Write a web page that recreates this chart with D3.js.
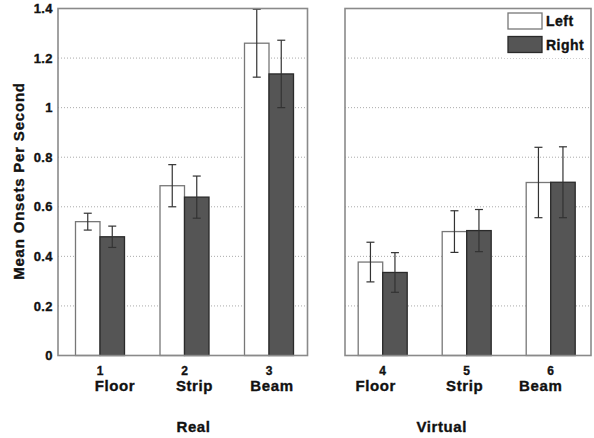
<!DOCTYPE html>
<html>
<head>
<meta charset="utf-8">
<script src="https://cdn.jsdelivr.net/npm/d3@7"></script>
<style>
  body { margin: 0; background: #fff; }
  text { font-family: "Liberation Sans", Arial, sans-serif; font-weight: bold; fill: #111; stroke: #111; stroke-width: 0.35px; }
</style>
</head>
<body>
<div id="chart"></div>
<script>
// Data
const surfaces = ["Floor", "Strip", "Beam", "Floor", "Strip", "Beam"];
const trialNums = [1, 2, 3, 4, 5, 6];
const conditions = ["Real", "Virtual"];
const leftMean = [0.54, 0.685, 1.26, 0.377, 0.50, 0.698];
const rightMean = [0.479, 0.639, 1.136, 0.335, 0.504, 0.699];
const leftErr = [0.034, 0.085, 0.137, 0.08, 0.084, 0.142];
const rightErr = [0.043, 0.085, 0.136, 0.08, 0.085, 0.143];
const yTicks = [0, 0.2, 0.4, 0.6, 0.8, 1, 1.2, 1.4];
const series = ["Left", "Right"];

const width = 594, height = 438;
const barW = 24.5;
// label nudges (surface names were offset in the original)
const nameShift = [15, 10, 3, -7, -2, -10];

const svg = d3.select("#chart").append("svg")
    .attr("width", width)
    .attr("height", height);

const y = d3.scaleLinear().domain([0, 1.4]).range([355.5, 8.5]);

// two panels
const panels = [
    {name: conditions[0], x0: 58, x1: 307.5, dom: [1, 3], rng: [100, 269]},
    {name: conditions[1], x0: 345, x1: 591, dom: [4, 6], rng: [382.7, 550.7]}
];

const color = d3.scaleOrdinal().domain(series).range(["#ffffff", "#555555"]);
const stroke = d3.scaleOrdinal().domain(series).range(["#777777", "#2a2a2a"]);

panels.forEach((p, pi) => {
    const x = d3.scaleLinear().domain(p.dom).range(p.rng);
    const g = svg.append("g");

    // dotted grid
    g.selectAll(".grid")
        .data(yTicks.filter(t => t > 0 && t < 1.4))
        .join("line")
        .attr("x1", p.x0).attr("x2", p.x1)
        .attr("y1", d => y(d)).attr("y2", d => y(d))
        .attr("stroke", "#aaa")
        .attr("stroke-width", 1)
        .attr("stroke-dasharray", "1,2");

    const idx = d3.range(pi * 3, pi * 3 + 3);
    const bars = [];
    idx.forEach(i => {
        bars.push({s: "Left", i, v: leftMean[i], e: leftErr[i], cx: x(trialNums[i]) - barW / 2});
        bars.push({s: "Right", i, v: rightMean[i], e: rightErr[i], cx: x(trialNums[i]) + barW / 2});
    });

    g.selectAll(".bar")
        .data(bars)
        .join("rect")
        .attr("x", d => d.cx - barW / 2)
        .attr("width", barW)
        .attr("y", d => y(d.v))
        .attr("height", d => y(0) - y(d.v))
        .attr("fill", d => color(d.s))
        .attr("stroke", d => stroke(d.s))
        .attr("stroke-width", 1.3);

    // error bars
    const eb = g.selectAll(".err").data(bars).join("g").attr("stroke", "#333").attr("stroke-width", 1.2);
    eb.append("line")
        .attr("x1", d => d.cx).attr("x2", d => d.cx)
        .attr("y1", d => y(d.v + d.e)).attr("y2", d => y(d.v - d.e));
    eb.append("line")
        .attr("x1", d => d.cx - 4).attr("x2", d => d.cx + 4)
        .attr("y1", d => y(d.v + d.e)).attr("y2", d => y(d.v + d.e));
    eb.append("line")
        .attr("x1", d => d.cx - 4).attr("x2", d => d.cx + 4)
        .attr("y1", d => y(d.v - d.e)).attr("y2", d => y(d.v - d.e));

    // frame
    g.append("rect")
        .attr("x", p.x0).attr("y", y(1.4))
        .attr("width", p.x1 - p.x0).attr("height", y(0) - y(1.4))
        .attr("fill", "none")
        .attr("stroke", "#8a8a8a")
        .attr("stroke-width", 1.6);

    // category labels
    g.selectAll(".num")
        .data(idx)
        .join("text")
        .attr("x", i => x(trialNums[i]))
        .attr("y", 374.5)
        .attr("text-anchor", "middle")
        .style("font-size", "12px")
        .text(i => trialNums[i]);
    g.selectAll(".name")
        .data(idx)
        .join("text")
        .attr("x", i => x(trialNums[i]) + nameShift[i])
        .attr("y", 391)
        .attr("text-anchor", "middle")
        .style("font-size", "15px")
        .style("letter-spacing", "0.6px")
        .text(i => surfaces[i]);

    g.append("text")
        .attr("x", (x(p.dom[0]) + x(p.dom[1])) / 2 + (pi === 0 ? 9 : -25))
        .attr("y", 432)
        .attr("text-anchor", "middle")
        .style("font-size", "15px")
        .style("letter-spacing", "0.6px")
        .text(p.name);
});

// y axis labels
svg.selectAll(".ytick")
    .data(yTicks)
    .join("text")
    .attr("x", 53)
    .attr("y", d => y(d))
    .attr("dy", "0.36em")
    .attr("text-anchor", "end")
    .style("font-size", "13px")
    .style("letter-spacing", "0.4px")
    .text(d => d3.format("~g")(d));

svg.append("text")
    .attr("transform", "translate(24,181) rotate(-90)")
    .attr("text-anchor", "middle")
    .style("font-size", "15px")
    .style("letter-spacing", "0.8px")
    .text("Mean Onsets Per Second");

// legend
const lg = svg.append("g");
lg.append("rect")
    .attr("x", 502).attr("y", 10).attr("width", 87).attr("height", 48)
    .attr("fill", "#fff");
const items = lg.selectAll(".item").data(series).join("g")
    .attr("transform", (d, i) => `translate(508,${13 + i * 23.5})`);
items.append("rect")
    .attr("width", 34).attr("height", 16)
    .attr("fill", d => color(d))
    .attr("stroke", d => stroke(d))
    .attr("stroke-width", 1.3);
items.append("text")
    .attr("x", 38).attr("y", 8)
    .attr("dy", "0.36em")
    .style("font-size", "14px")
    .style("letter-spacing", "0.5px")
    .text(d => d);
</script>
</body>
</html>
